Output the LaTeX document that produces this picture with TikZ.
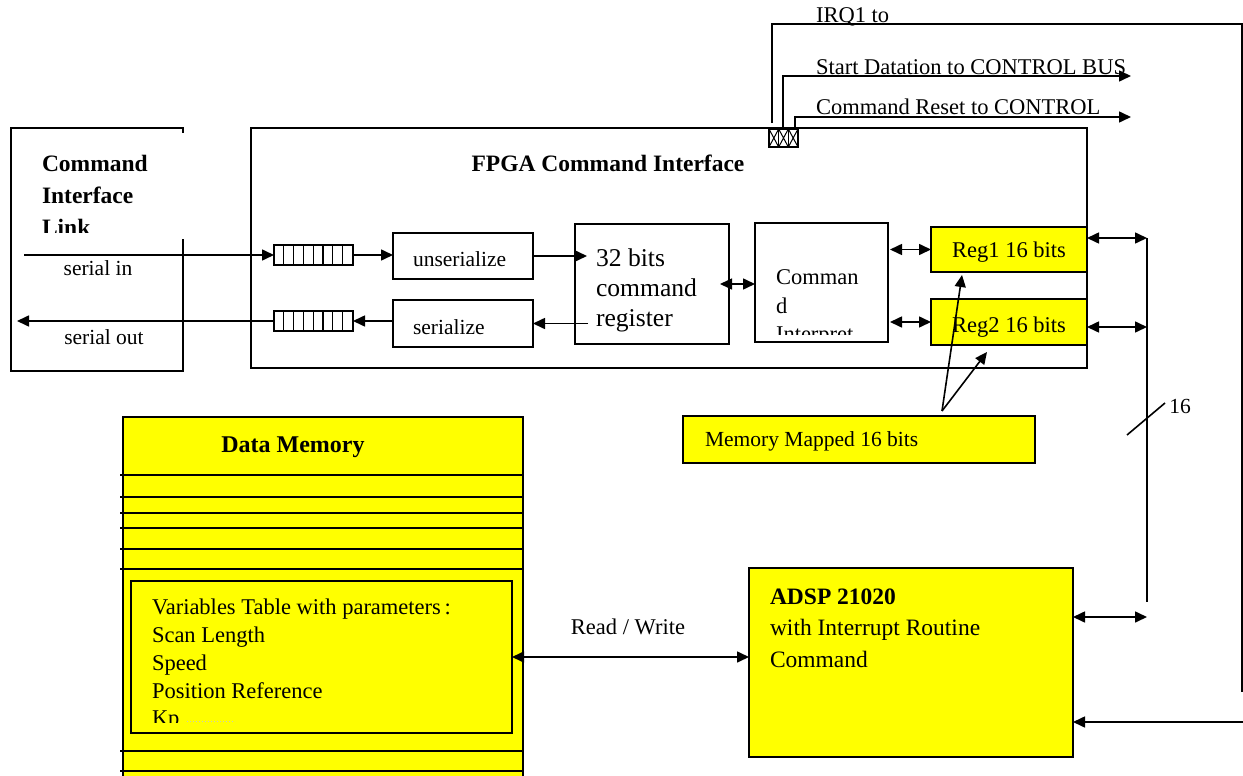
\documentclass[tikz,border=0pt]{standalone}
\usepackage{fontspec}
\setmainfont{Liberation Serif}
\usetikzlibrary{arrows.meta,calc}
\definecolor{hiyel}{RGB}{255,255,0}
\newcommand\setfs[2]{\fontsize{#1}{#2}\selectfont}

\begin{document}
\begin{tikzpicture}[x=1pt,y=-1pt,
  every node/.style={inner sep=0pt, outer sep=0pt},
  blk/.style={draw, line width=1.6pt, anchor=north west, inner sep=0pt},
  ybox/.style={blk, fill=hiyel},
  wire/.style={line width=1.6pt},
  tip/.style={wire, -{Triangle[length=12pt,width=11pt]}},
  dtip/.style={wire, {Triangle[length=12pt,width=11pt]}-{Triangle[length=12pt,width=11pt]}},
  lbl/.style={font=\setfs{22.5}{27}},
  slbl/.style={font=\setfs{21.5}{26}},
  blbl/.style={font=\bfseries\setfs{23.5}{32}},
  fifo/.style={blk, line width=1.2pt, minimum width=79pt, minimum height=20pt}
]
\useasboundingbox (0,0) rectangle (1243,776);
\clip (0,0) rectangle (1243,776);

% ---------------- Command Interface Link ----------------
\node[blk, minimum width=172pt, minimum height=243pt] (cil) at (11,128) {};
\fill[white] (28,133) rectangle (192,239);
\begin{scope}
  \clip (28,133) rectangle (192,232);
  \node[blbl, anchor=north west, align=left] (ciltxt) at (42,155) {Command\\Interface\\Link};
\end{scope}
\coordinate (sin) at (24,255);
\coordinate (sout) at (17,321);
\node[slbl] (sinlbl) at (98,268) {serial in};
\node[slbl] (soutlbl) at (104,337) {serial out};

% ---------------- FPGA Command Interface ----------------
\node[blk, minimum width=836pt, minimum height=240pt] (fpga) at (251,128) {};
\node[blbl] (fpgatxt) at (608,163) {FPGA Command Interface};

% shift registers
\node[fifo] (fifo1) at (274,245) {};
\node[fifo] (fifo2) at (274,311) {};
\foreach \f in {fifo1,fifo2}
  \foreach \i in {1,...,7}
    \draw[line width=1.2pt] ($(\f.north west)+(\i*9.8,0)$) -- ($(\f.south west)+(\i*9.8,0)$);

\node[blk, minimum width=140pt, minimum height=46pt] (unser) at (393,233) {};
\node[slbl, anchor=west] (unsertxt) at (413,259) {unserialize};
\node[blk, minimum width=140pt, minimum height=47pt] (ser) at (393,300) {};
\node[slbl, anchor=west] (sertxt) at (413,327) {serialize};

\node[blk, minimum width=154pt, minimum height=120pt] (reg32) at (575,224) {};
\node[anchor=north west, align=left, font=\setfs{25.6}{30}] (reg32txt) at (596,249) {32 bits\\command\\register};

\node[blk, minimum width=133pt, minimum height=119pt] (cmdi) at (755,223) {};
\begin{scope}
  \clip (756,224) rectangle (887,334);
  \node[anchor=north west, align=left, font=\setfs{22.5}{28.5}] (cmditxt) at (776,270) {Comman\\d\\Interpret};
\end{scope}

\node[ybox, minimum width=156pt, minimum height=45pt] (reg1) at (931,227) {};
\node[lbl] (reg1txt) at (1009,252) {Reg1 16 bits};
\node[ybox, minimum width=156pt, minimum height=46pt] (reg2) at (931,299) {};
\node[lbl] (reg2txt) at (1009,327) {Reg2 16 bits};

% control outputs connector
\node[blk, line width=1.2pt, minimum width=29pt, minimum height=18pt] (conn) at (769,129) {};
\foreach \i in {0,1,2} {
  \draw[line width=1pt] ($(conn.north west)+(\i*9.67,0)$) -- ($(conn.south west)+(\i*9.67+9.67,0)$)
                        ($(conn.south west)+(\i*9.67,0)$) -- ($(conn.north west)+(\i*9.67+9.67,0)$);
  \draw[line width=1pt] ($(conn.north west)+(\i*9.67,0)$) -- ($(conn.south west)+(\i*9.67,0)$);
}

% ---------------- Memory mapped note ----------------
\node[ybox, line width=1.3pt, minimum width=352pt, minimum height=47pt] (memmap) at (683,416) {};
\node[slbl, anchor=west] (memmaptxt) at (705,441) {Memory Mapped 16 bits};
\coordinate (mmsrc) at (942,411);

% ---------------- Data memory ----------------
\node[ybox, minimum width=400pt, minimum height=380pt] (dmem) at (123,417) {};
\node[font=\bfseries\setfs{24}{28}] (dmemtxt) at (293,447) {Data Memory};
\foreach \yy in {475,497,513,528,549,569,751,771}
  \draw[wire] (120,\yy) -- (523,\yy);

\node[ybox, minimum width=381pt, minimum height=152pt] (vars) at (131,581) {};
\begin{scope}
  \clip (132,582) rectangle (511,722.7);
  \node[anchor=north west, align=left, font=\setfs{22.5}{27.8}] (varstxt) at (152,599)
    {Variables Table with parameters\,:\\Scan Length\\Speed\\Position Reference\\Kp};
\end{scope}
\draw[gray!45, dotted, line width=1pt] (187,721) -- (235,721);

% ---------------- DSP ----------------
\node[ybox, minimum width=324pt, minimum height=189pt] (adsp) at (749,568) {};
\node[anchor=north west, align=left, font=\setfs{23.5}{31.7}] (adsptxt) at (770,588.5)
  {\textbf{ADSP 21020}\\with Interrupt Routine\\Command};

% ---------------- bus and wiring ----------------
\coordinate (busT) at (1147,238);
\coordinate (busE) at (1147,602);
\coordinate (adspbus) at (1147,617);
\coordinate (irqc) at (1242,24);
\coordinate (irqend) at (1242,692);
\coordinate (irqin) at (1243,722);
\coordinate (sdend) at (1131,76);
\coordinate (crend) at (1131,117);

\draw[tip] (sin) -- (sin -| fifo1.west);
\draw[tip] (fifo1.east) -- (fifo1.east -| unser.west);
\draw[tip] (unser.east) -- ($(unser.east -| reg32.west)+(12,0)$);
\draw[tip] ($(ser.east -| reg32.west)+(13,0)$) -- (ser.east);
\draw[tip] (ser.west |- fifo2) -- (fifo2.east);
\draw[tip] (fifo2.west) -- (fifo2.west -| sout);

\draw[dtip] ($(reg32.east)+(-9,0)$) -- (reg32.east -| cmdi.west);
\draw[dtip] ($(cmdi.east |- reg1)+(2,0)$) -- (reg1.west);
\draw[dtip] ($(cmdi.east |- reg2)+(2,0)$) -- (reg2.west);
\draw[dtip] (reg1.east |- busT) -- (busT);
\draw[dtip] ([yshift=-5pt]reg2.east) -- ([yshift=-5pt]reg2.east -| busT);
\draw[wire] (busT) -- (busE);
\draw[dtip] (adsp.east |- adspbus) -- (adspbus);
\draw[wire] (1127,435) -- (1165,403);
\node[slbl] (buswidth) at (1180,406) {16};

\draw[tip] (mmsrc) -- ($(reg1.south west)+(31,3)$);
\draw[tip] (mmsrc) -- ($(reg2.south west)+(56,7)$);

\draw[dtip] (vars.east) -- (vars.east -| adsp.west);
\node[lbl] (rwlbl) at (628,627) {Read / Write};

% control lines leaving the connector
\draw[wire] ($(conn.north west)+(3,-6)$) |- (irqc) -- (irqend);
\draw[tip] ($(conn.north west)+(14,0)$) |- (sdend);
\draw[tip] ($(conn.north west)+(26,0)$) |- (crend);
\draw[tip] (irqin) -- (irqin -| adsp.east);
\node[lbl, anchor=base west] (irqlbl) at (816,22.5) {IRQ1 to};
\node[lbl, anchor=base west] (sdlbl) at (816,74.5) {Start Datation to CONTROL BUS};
\node[lbl, anchor=base west] (crlbl) at (816,114) {Command Reset to CONTROL};
\end{tikzpicture}
\end{document}
